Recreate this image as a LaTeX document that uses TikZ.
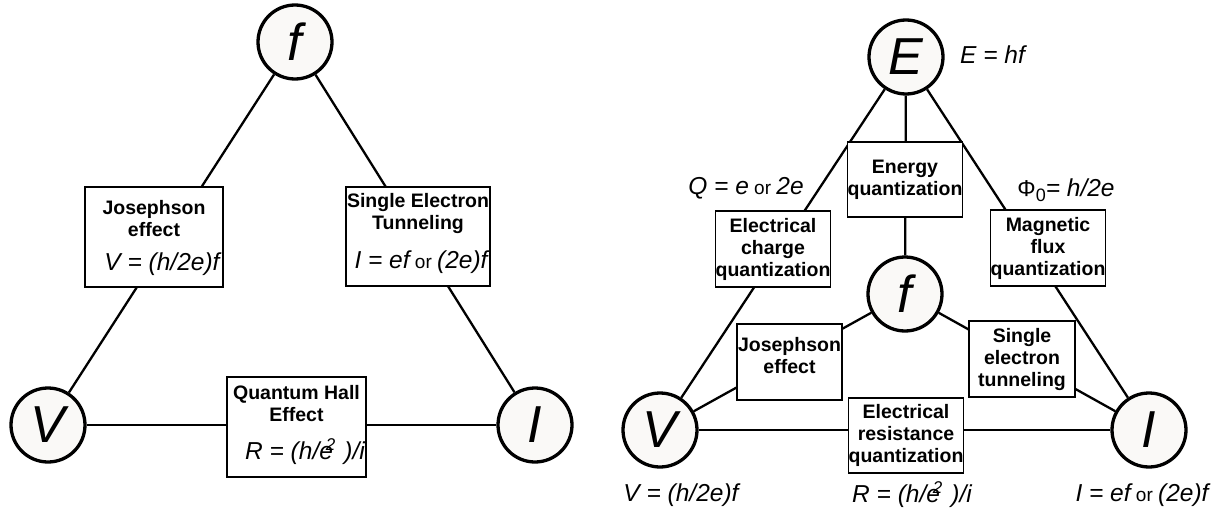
\documentclass[tikz,border=0pt]{standalone}
\usepackage{fontspec}
\setmainfont{Liberation Sans}
\definecolor{circfill}{RGB}{250,249,247}
\begin{document}
\begin{tikzpicture}[x=1pt,y=-1pt,
  circ/.style={circle, draw, line width=3.3pt, fill=circfill, minimum size=74pt, inner sep=0pt, font=\fontsize{52}{52}\selectfont\itshape},
  conn/.style={line width=2.3pt},
  qbox/.style={draw, line width=1.8pt, fill=white, inner sep=0pt, align=center, font=\fontsize{19.5}{22}\selectfont\bfseries},
  lbl/.style={inner sep=0pt, align=center, font=\fontsize{19.5}{22}\selectfont\bfseries},
  formula/.style={inner sep=0pt, font=\fontsize{24.5}{24.5}\selectfont\itshape}
]
\useasboundingbox (0,0) rectangle (1227,511);
\newcommand{\orw}{{\fontsize{19}{19}\selectfont\upshape\ or\ }}
\newcommand{\eqsq}{e\kern-7pt\raisebox{9pt}{\fontsize{17}{17}\selectfont 2}\kern 9pt}
% ---------------- left panel ----------------
\node[circ] (fL) at (295,42) {f};
\node[circ] (VL) at (48,425) {V};
\node[circ] (IL) at (535,425) {I};
\draw[conn] (fL) -- (VL);
\draw[conn] (fL) -- (IL);
\draw[conn] (VL) -- (IL);
\node[qbox, minimum width=138pt, minimum height=100pt] (josL) at (154,237) {};
\node[lbl] (josLt) at (154,219) {Josephson\\effect};
\node[formula] (josLf) at (162,264) {V = (h/2e)f};
\node[qbox, minimum width=144pt, minimum height=99pt] (setL) at (418,236.5) {};
\node[lbl] (setLt) at (418,214) {Single Electron\\Tunneling};
\node[formula] (setLf) at (421,262) {I = ef\orw(2e)f};
\node[qbox, minimum width=139pt, minimum height=100pt] (qheL) at (296.5,427) {};
\node[lbl] (qheLt) at (296.5,404) {Quantum Hall\\Effect};
\node[formula] (qheLf) at (305,452) {R = (h/\eqsq)/i};
% ---------------- right panel ----------------
\node[circ] (E) at (906,57) {E};
\node[circ] (fR) at (905,294) {f};
\node[circ] (VR) at (660,430) {V};
\node[circ] (IR) at (1149,430) {I};
\draw[conn] (E) -- (fR);
\draw[conn] (E) -- (VR);
\draw[conn] (E) -- (IR);
\draw[conn] (VR) -- (IR);
\draw[conn] (VR) -- (fR);
\draw[conn] (fR) -- (IR);
\node[qbox, minimum width=114pt, minimum height=75pt] (enQ) at (905,179.5) {Energy\\quantization};
\node[qbox, minimum width=114pt, minimum height=76pt] (chQ) at (773,249) {Electrical\\charge\\quantization};
\node[qbox, minimum width=114pt, minimum height=76pt] (flQ) at (1048,248) {Magnetic\\flux\\quantization};
\node[qbox, minimum width=105pt, minimum height=76pt] (josR) at (789.5,362) {};
\node[lbl] (josRt) at (789.5,356) {Josephson\\effect};
\node[qbox, minimum width=106pt, minimum height=76pt] (setR) at (1022,359) {Single\\electron\\tunneling};
\node[qbox, minimum width=114pt, minimum height=75pt] (resQ) at (906,435.5) {Electrical\\resistance\\quantization};
\node[formula, anchor=west] (Ehf) at (960,55) {E = hf};
\node[formula] (Qeq) at (746,188) {Q = e\orw2e};
\node[formula] (Phi) at (1066,190) {{\upshape\fontsize{23}{23}\selectfont Φ}\raisebox{-5pt}{\upshape\fontsize{18}{18}\selectfont 0}= h/2e};
\node[formula] (Vf) at (681,495) {V = (h/2e)f};
\node[formula] (Rf) at (912,495) {R = (h/\eqsq)/i};
\node[formula] (If) at (1142,495) {I = ef\orw(2e)f};
\end{tikzpicture}
\end{document}
